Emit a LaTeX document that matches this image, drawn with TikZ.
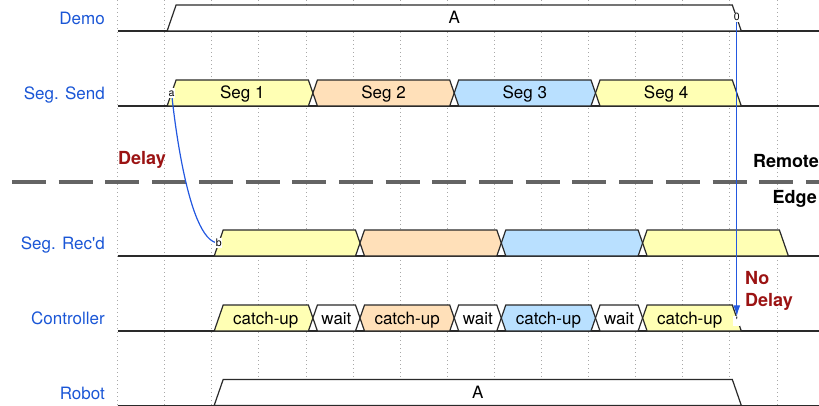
\documentclass[tikz,border=0pt]{standalone}
\usepackage{fontspec}
\setmainfont{TeX Gyre Heros}
\usetikzlibrary{arrows.meta}

\definecolor{segyellow}{HTML}{FFFFB4}
\definecolor{segorange}{HTML}{FFE0B9}
\definecolor{segblue}{HTML}{B9E0FF}
\definecolor{lanename}{HTML}{1A56D6}
\definecolor{arcblue}{HTML}{2358E0}
\definecolor{notered}{HTML}{9B1313}
\definecolor{wirecol}{HTML}{2A2A2A}
\definecolor{gridcol}{HTML}{A8A8A8}
\definecolor{splitcol}{HTML}{646464}

\tikzset{
  wave/.style={draw=wirecol, line width=1.2pt, line join=miter},
  gridline/.style={draw=gridcol, line width=0.8pt, dash pattern=on 0.8pt off 3.2pt},
  splitline/.style={draw=splitcol, line width=4pt, dash pattern=on 34pt off 12.7pt},
  lanelabel/.style={text=lanename, inner sep=0pt, anchor=base east, font=\fontsize{17}{20}\selectfont},
  datatext/.style={text=black, inner sep=0pt, anchor=base, font=\fontsize{17}{20}\selectfont},
  note/.style={text=notered, inner sep=0pt, font=\fontsize{18}{22}\selectfont\bfseries},
  sidenote/.style={text=black, inner sep=0pt, font=\fontsize{18}{22}\selectfont\bfseries},
  marker/.style={fill=white, text=black, inner sep=0.8pt, text height=7pt, text depth=0.5pt,
                 minimum width=7pt, font=\fontsize{10.5}{11}\selectfont},
  arc/.style={draw=arcblue, line width=1.2pt},
}

\def\hh{13}   % half height of a lane
\def\tw{4.5}  % half width of a transition
\def\kindr{r}
\def\kindx{x}
\newcount\segno

% \dataseg{lane mid}{x start}{x end}{r = rising start | x = crossing}{f = falling end | x = crossing}{fill}{text}
\newcommand\dataseg[7]{%
  \pgfmathsetmacro\yt{#1-\hh}%
  \pgfmathsetmacro\yb{#1+\hh}%
  \def\lk{#4}\def\rk{#5}%
  \ifx\lk\kindr
    \def\leftpart{(#2-\tw,\yb) -- (#2+\tw,\yt)}%
  \else
    \def\leftpart{(#2+\tw,\yb) -- (#2,#1) -- (#2+\tw,\yt)}%
  \fi
  \ifx\rk\kindx
    \def\rightpart{(#3-\tw,\yt) -- (#3,#1) -- (#3-\tw,\yb)}%
  \else
    \def\rightpart{(#3-\tw,\yt) -- (#3+\tw,\yb)}%
  \fi
  \filldraw[wave, fill=#6] \leftpart -- \rightpart -- cycle;
  \global\advance\segno by 1
  \node[datatext] (seg\the\segno) at ({(#2+#3)/2},#1+6) {#7};
}

\begin{document}
\begin{tikzpicture}[x=1pt, y=-1pt]
\useasboundingbox (0,0) rectangle (819,406);

% period grid
\foreach \k in {0,...,14}
  \draw[gridline] ({117.5+47.1*\k},0) -- ({117.5+47.1*\k},406);

% lane names
\node[lanelabel] (nDemo) at (105,24.5)  {Demo};
\node[lanelabel] (nSend) at (105,99.5)  {Seg. Send};
\node[lanelabel] (nRecd) at (105,249.5) {Seg. Rec\textquotesingle d};
\node[lanelabel] (nCtrl) at (105,324.5) {Controller};
\node[lanelabel] (nRobot) at (105,399.5) {Robot};

% low levels
\foreach \y in {31,106,256,331,405.4}
  \draw[wave] (117.5,\y) -- (819,\y);

% Demo
\dataseg{18}{171.6}{736.8}{r}{f}{white}{A}

% Seg. Send
\dataseg{93}{171.6}{312.9}{r}{x}{segyellow}{Seg 1}
\dataseg{93}{312.9}{454.2}{x}{x}{segorange}{Seg 2}
\dataseg{93}{454.2}{595.5}{x}{x}{segblue}{Seg 3}
\dataseg{93}{595.5}{736.8}{x}{f}{segyellow}{Seg 4}

% Seg. Rec'd
\dataseg{243}{218.7}{360.0}{r}{x}{segyellow}{}
\dataseg{243}{360.0}{501.3}{x}{x}{segorange}{}
\dataseg{243}{501.3}{642.6}{x}{x}{segblue}{}
\dataseg{243}{642.6}{783.9}{x}{f}{segyellow}{}

% Controller
\dataseg{318}{218.7}{312.9}{r}{x}{segyellow}{catch-up}
\dataseg{318}{312.9}{360.0}{x}{x}{white}{wait}
\dataseg{318}{360.0}{454.2}{x}{x}{segorange}{catch-up}
\dataseg{318}{454.2}{501.3}{x}{x}{white}{wait}
\dataseg{318}{501.3}{595.5}{x}{x}{segblue}{catch-up}
\dataseg{318}{595.5}{642.6}{x}{x}{white}{wait}
\dataseg{318}{642.6}{736.8}{x}{f}{segyellow}{catch-up}

% Robot
\dataseg{392.4}{218.7}{736.8}{r}{f}{white}{A}

% remote / edge split
\coordinate (splitL) at (12,182);
\coordinate (splitR) at (819,182);
\draw[splitline] (splitL) -- (splitR);
\node[sidenote, anchor=base east] (remote) at (819,167.5) {Remote};
\node[sidenote, anchor=base east] (edge) at (817,204) {Edge};

\node[note, anchor=base west] (delay) at (118,165) {Delay};
\node[note, anchor=base west] (noword) at (745,284.5) {No};
\node[note, anchor=base west] (nodelay) at (745,306.5) {Delay};

% delayed hand-over from send to receive
\coordinate (a) at (171.6,93);
\coordinate (b) at (218.7,243);
\draw[arc] (a) .. controls (a) and (185.7,243) .. (b);
\node[marker] (ma) at (a) {a};
\node[marker] (mb) at (b) {b};

% immediate link from the demo to the controller
\node[marker] (m0) at (736.8,17.5) {0};
\node[marker] (mc) at (736.8,321) {\textquotesingle};
\draw[arc, -{Latex[length=11pt,width=7pt]}] (m0) -- (mc);
\end{tikzpicture}
\end{document}
